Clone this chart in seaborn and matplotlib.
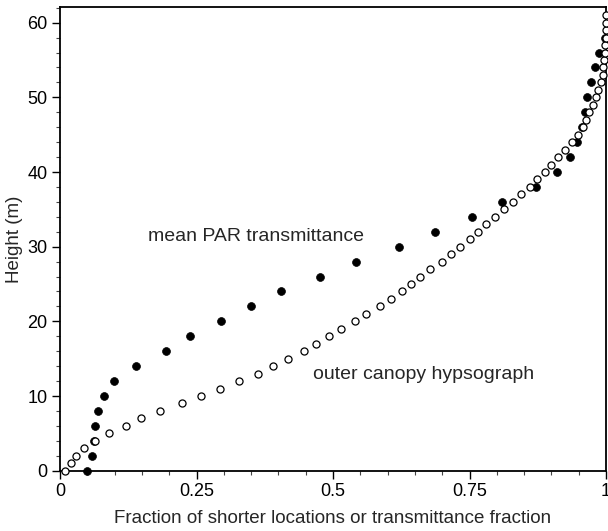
import matplotlib
matplotlib.use('Agg')
import matplotlib.pyplot as plt
from matplotlib.ticker import MultipleLocator, FixedLocator
import seaborn as sns
import pandas as pd

# mean PAR transmittance (filled circles), every 2 m
par_height = [0, 2, 4, 6, 8, 10, 12, 14, 16, 18, 20, 22, 24, 26, 28,
              30, 32, 34, 36, 38, 40, 42, 44, 46, 48, 50, 52, 54, 56, 58]
par_frac = [0.049, 0.059, 0.062, 0.065, 0.070, 0.081, 0.098, 0.139, 0.194, 0.239,
            0.294, 0.350, 0.405, 0.476, 0.543, 0.620, 0.686, 0.754, 0.810, 0.872,
            0.911, 0.934, 0.946, 0.956, 0.962, 0.965, 0.973, 0.980, 0.988, 0.999]

# outer canopy hypsograph (open circles), every 1 m
hyp_height = list(range(0, 62))
hyp_frac = [0.010, 0.020, 0.029, 0.044, 0.065, 0.089, 0.120, 0.148, 0.183, 0.224,
            0.259, 0.293, 0.328, 0.362, 0.391, 0.418, 0.446, 0.469, 0.493, 0.514,
            0.540, 0.560, 0.586, 0.607, 0.626, 0.643, 0.660, 0.678, 0.699, 0.717,
            0.733, 0.750, 0.765, 0.781, 0.797, 0.813, 0.829, 0.844, 0.860, 0.874,
            0.888, 0.900, 0.912, 0.925, 0.937, 0.948, 0.957, 0.963, 0.969, 0.977,
            0.982, 0.986, 0.991, 0.994, 0.995, 0.997, 0.998, 0.999, 1.0, 1.0,
            1.0, 1.0]

x_ticks = [0, 0.25, 0.5, 0.75, 1]
x_ticklabels = ['0', '0.25', '0.5', '0.75', '1']

par = pd.DataFrame({'fraction': par_frac, 'height': par_height})
hyp = pd.DataFrame({'fraction': hyp_frac, 'height': hyp_height})

sns.set_style('ticks')
plt.rcParams['font.family'] = ['Liberation Sans', 'DejaVu Sans']

fig = plt.figure(figsize=(6.08, 5.31), dpi=100)
ax = fig.add_axes([60 / 608, 1 - 470.7 / 531, 546 / 608, 463.7 / 531])

sns.scatterplot(data=par, x='fraction', y='height', ax=ax, color='black',
                marker='o', s=32, edgecolor='black', linewidth=0.5,
                clip_on=False, zorder=3)
sns.scatterplot(data=hyp, x='fraction', y='height', ax=ax, color='white',
                marker='o', s=26, edgecolor='black', linewidth=0.9,
                clip_on=False, zorder=4)

ax.set_xlim(0, 1)
ax.set_ylim(0, 62.1)
ax.xaxis.set_major_locator(FixedLocator(x_ticks))
ax.set_xticklabels(x_ticklabels)
ax.xaxis.set_minor_locator(MultipleLocator(0.05))
ax.yaxis.set_major_locator(MultipleLocator(10))
ax.yaxis.set_minor_locator(MultipleLocator(2))

ax.tick_params(which='major', direction='out', length=6, width=1,
               labelsize=13, pad=3, color='black', labelcolor='black')
ax.tick_params(which='minor', direction='out', length=3, width=0.8, color='#444444')
for side in ['top', 'right', 'bottom', 'left']:
    ax.spines[side].set_visible(True)
    ax.spines[side].set_linewidth(1.3)
    ax.spines[side].set_color('black')

ax.set_xlabel('Fraction of shorter locations or transmittance fraction',
              fontsize=13.5, labelpad=7)
ax.set_ylabel('Height (m)', fontsize=13.5, labelpad=3)

ax.text(0.161, 30.7, 'mean PAR transmittance', fontsize=14, va='baseline', ha='left')
ax.text(0.464, 12.3, 'outer canopy hypsograph', fontsize=14, va='baseline', ha='left')

fig.savefig('out.png', dpi=100)
